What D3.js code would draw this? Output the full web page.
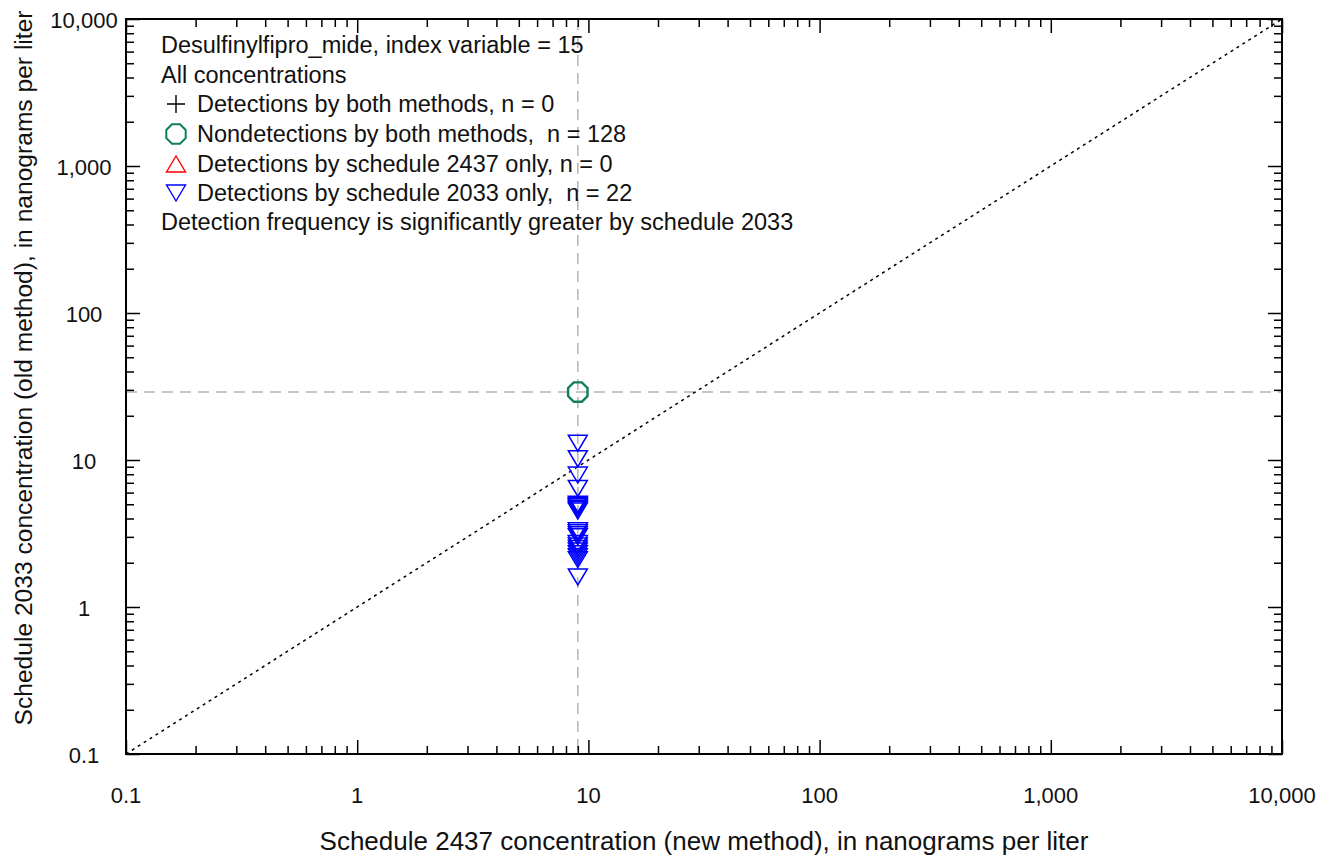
<!DOCTYPE html>
<html>
<head>
<meta charset="utf-8">
<script src="https://cdn.jsdelivr.net/npm/d3@7"></script>
<style>
  html, body { margin: 0; padding: 0; background: #fff; }
  svg text { font-family: "Liberation Sans Narrow", "Arial Narrow", "Liberation Sans", sans-serif; fill: #111; white-space: pre; }
</style>
</head>
<body>
<svg id="chart" width="1329" height="860"></svg>
<script>
// Axis decades (log scale) and their labels
const tickValues = [0.1, 1, 10, 100, 1000, 10000];
const tickLabels = ["0.1", "1", "10", "100", "1,000", "10,000"];

// Reporting levels shown as dashed reference lines
const reportLevelX = 9;
const reportLevelY = 29;

// Nondetections by both methods: all plotted at the reporting levels
const nondetectX = [9];
const nondetectY = [29];
const nondetectCount = [128];

// Detections by schedule 2033 only (x at the schedule 2437 reporting level)
const det2033Y = [13, 10.2, 7.9, 6.4, 5.0, 4.9, 4.8, 4.7, 4.6, 4.5, 3.3, 3.2, 3.1, 3.0,
                  2.7, 2.6, 2.5, 2.4, 2.3, 2.2, 2.1, 1.6];
const det2033X = det2033Y.map(() => reportLevelX);

// Legend lines
const titleLines = ["Desulfinylfipro_mide, index variable = 15", "All concentrations"];
const legendItems = [
  { sym: "plus", label: "Detections by both methods, n = 0" },
  { sym: "octagon", label: "Nondetections by both methods,  n = 128" },
  { sym: "up", label: "Detections by schedule 2437 only, n = 0" },
  { sym: "down", label: "Detections by schedule 2033 only,  n = 22" }
];
const footLine = "Detection frequency is significantly greater by schedule 2033";

const xTitle = "Schedule 2437 concentration (new method), in nanograms per liter";
const yTitle = "Schedule 2033 concentration (old method), in nanograms per liter";

const colors = { plus: "#000000", octagon: "#0f7f55", up: "#ff0000", down: "#0000ff" };

const margin = { left: 126, right: 1282, top: 19, bottom: 754 };
const svg = d3.select("#chart");

const x = d3.scaleLog().domain([0.1, 10000]).range([margin.left, margin.right]);
const y = d3.scaleLog().domain([0.1, 10000]).range([margin.bottom, margin.top]);

// Minor ticks 2..9 within each decade
const minorTicks = [];
tickValues.slice(0, -1).forEach(d => {
  for (let k = 2; k <= 9; k++) minorTicks.push(d * k);
});

const legendSize = 23.5;
const tickSize = 22;

// Reference lines at reporting levels
svg.append("line")
  .attr("x1", x(reportLevelX)).attr("x2", x(reportLevelX))
  .attr("y1", margin.top).attr("y2", margin.bottom)
  .attr("stroke", "#b4b4b4").attr("stroke-width", 1.5).attr("stroke-dasharray", "11,7");
svg.append("line")
  .attr("x1", margin.left).attr("x2", margin.right)
  .attr("y1", y(reportLevelY)).attr("y2", y(reportLevelY))
  .attr("stroke", "#b4b4b4").attr("stroke-width", 1.5).attr("stroke-dasharray", "11,7");

// 1:1 line
svg.append("line")
  .attr("x1", x(0.1)).attr("y1", y(0.1))
  .attr("x2", x(10000)).attr("y2", y(10000))
  .attr("stroke", "#000").attr("stroke-width", 1.5).attr("stroke-dasharray", "3,4");

// Axes with inward ticks on all four sides
function addTicks(makeAxis, transform, values, len) {
  const g = svg.append("g").attr("transform", transform)
    .call(makeAxis().tickValues(values).tickSize(-len).tickFormat(""));
  g.select(".domain").remove();
  g.selectAll("line").attr("stroke", "#000").attr("stroke-width", 1.5);
}
[[() => d3.axisBottom(x), `translate(0,${margin.bottom})`],
 [() => d3.axisTop(x), `translate(0,${margin.top})`],
 [() => d3.axisLeft(y), `translate(${margin.left},0)`],
 [() => d3.axisRight(y), `translate(${margin.right},0)`]].forEach(([mk, t]) => {
  addTicks(mk, t, minorTicks, 8);
  addTicks(mk, t, tickValues, 14);
});

// Frame
svg.append("rect")
  .attr("x", margin.left).attr("y", margin.top)
  .attr("width", margin.right - margin.left).attr("height", margin.bottom - margin.top)
  .attr("fill", "none").attr("stroke", "#000").attr("stroke-width", 2);

// Tick labels
svg.append("g").selectAll("text").data(tickValues).join("text")
  .attr("x", d => x(d)).attr("y", 803)
  .attr("text-anchor", "middle").attr("font-size", tickSize)
  .text((d, i) => tickLabels[i]);
svg.append("g").selectAll("text").data(tickValues).join("text")
  .attr("x", 84).attr("y", d => y(d) + 9)
  .attr("text-anchor", "middle").attr("font-size", tickSize)
  .text((d, i) => tickLabels[i]);

// Axis titles
svg.append("text")
  .attr("x", (margin.left + margin.right) / 2).attr("y", 850)
  .attr("text-anchor", "middle").attr("font-size", 26)
  .text(xTitle);
svg.append("text")
  .attr("transform", `translate(32,368) rotate(-90)`)
  .attr("text-anchor", "middle").attr("font-size", 24.6)
  .text(yTitle);

// Marker shapes
function octagonPath(r) {
  const pts = d3.range(8).map(i => {
    const a = Math.PI / 8 + i * Math.PI / 4;
    return [r * Math.cos(a), r * Math.sin(a)];
  });
  return "M" + pts.map(p => p.join(",")).join("L") + "Z";
}
function triPath(w, h, down) {
  const s = down ? 1 : -1;
  return `M${-w / 2},${-s * h / 2}L${w / 2},${-s * h / 2}L0,${s * h / 2}Z`;
}
const shapes = {
  plus: "M-9,0L9,0M0,-9L0,9",
  octagon: octagonPath(10.5),
  up: triPath(19, 16, false),
  down: triPath(19, 16, true)
};

// Nondetections
svg.append("g").selectAll("path").data(nondetectX.map((d, i) => ({ x: d, y: nondetectY[i], n: nondetectCount[i] })))
  .join("path")
  .attr("transform", d => `translate(${x(d.x)},${y(d.y)})`)
  .attr("d", shapes.octagon)
  .attr("fill", "none").attr("stroke", colors.octagon).attr("stroke-width", 2.4);

// Detections by schedule 2033 only
svg.append("g").selectAll("path").data(det2033Y.map((d, i) => ({ x: det2033X[i], y: d })))
  .join("path")
  .attr("transform", d => `translate(${x(d.x)},${y(d.y)})`)
  .attr("d", shapes.down)
  .attr("fill", "none").attr("stroke", colors.down).attr("stroke-width", 1.5);

// Legend
const lx = 161, symX = 176, textX = 197;
const baselines = [53, 83, 112, 142, 172, 201, 230];
titleLines.forEach((t, i) => {
  svg.append("text").attr("x", lx).attr("y", baselines[i]).attr("font-size", legendSize).text(t);
});
legendItems.forEach((it, i) => {
  const b = baselines[i + 2];
  svg.append("path")
    .attr("transform", `translate(${symX},${b - 8})`)
    .attr("d", shapes[it.sym])
    .attr("fill", "none").attr("stroke", colors[it.sym])
    .attr("stroke-width", it.sym === "octagon" ? 2 : 1.4);
  svg.append("text").attr("x", textX).attr("y", b).attr("font-size", legendSize).text(it.label);
});
svg.append("text").attr("x", lx).attr("y", baselines[6]).attr("font-size", legendSize).text(footLine);
</script>
</body>
</html>
